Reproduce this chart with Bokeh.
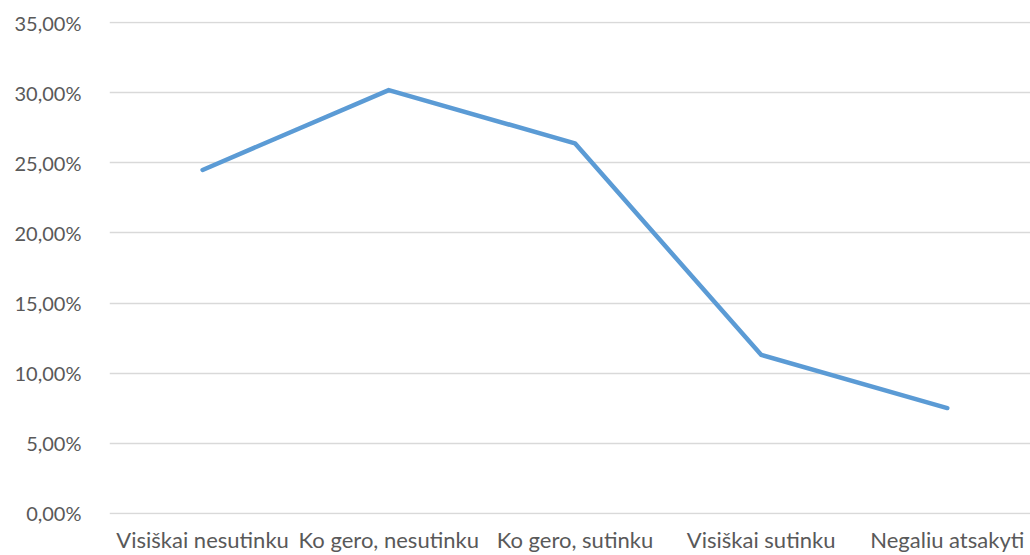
from bokeh.plotting import figure
from bokeh.models import Range1d, FixedTicker, ColumnDataSource
from bokeh.embed import file_html
from bokeh.resources import INLINE

categories = ["Visiškai nesutinku", "Ko gero, nesutinku", "Ko gero, sutinku",
              "Visiškai sutinku", "Negaliu atsakyti"]
values = [24.5, 30.2, 26.4, 11.3, 7.5]
y_ticks = [0, 5, 10, 15, 20, 25, 30, 35]
y_tick_labels = ["0,00%", "5,00%", "10,00%", "15,00%", "20,00%", "25,00%", "30,00%", "35,00%"]

xs = list(range(len(categories)))
src = ColumnDataSource(data=dict(x=xs, y=values, cat=categories))

p = figure(width=1030, height=555, output_backend="svg", toolbar_location=None,
           x_range=Range1d(-0.5, 4.447), y_range=Range1d(-0.1, 35.1),
           min_border_left=109, min_border_right=0, min_border_top=21, min_border_bottom=41)
p.outline_line_color = None
p.background_fill_color = "white"
p.border_fill_color = "white"

p.line("x", "y", source=src, line_color="#5b9bd5", line_width=4.5,
       line_cap="round", line_join="round")

FONT = "Lato"
TXT = "#595959"

p.xaxis.ticker = FixedTicker(ticks=xs)
p.xaxis.major_label_overrides = {i: c for i, c in zip(xs, categories)}
p.yaxis.ticker = FixedTicker(ticks=y_ticks)
p.yaxis.major_label_overrides = {t: l for t, l in zip(y_ticks, y_tick_labels)}

for ax in (p.xaxis, p.yaxis):
    ax.axis_line_color = None
    ax.major_tick_line_color = None
    ax.minor_tick_line_color = None
    ax.major_label_text_font = FONT
    ax.major_label_text_color = TXT
p.xaxis.major_label_text_font_size = "22px"
p.yaxis.major_label_text_font_size = "20px"
p.xaxis.major_label_standoff = 5
p.yaxis.major_label_standoff = 22

p.xgrid.grid_line_color = None
p.ygrid.grid_line_color = "#d9d9d9"
p.ygrid.grid_line_width = 1.3

open("out.html", "w").write(file_html(p, INLINE))
